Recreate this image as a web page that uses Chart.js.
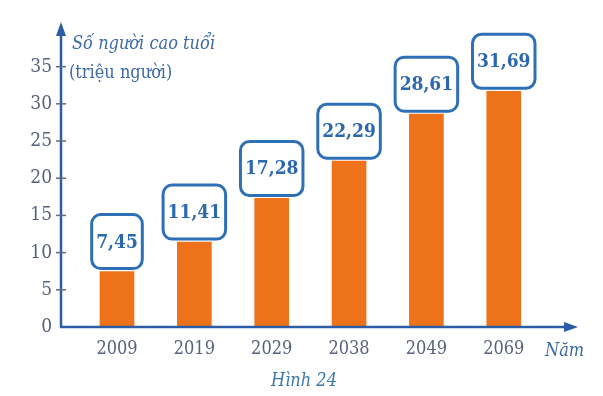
<!DOCTYPE html>
<html>
<head>
<meta charset="utf-8">
<script src="https://cdn.jsdelivr.net/npm/chart.js@4.4.1/dist/chart.umd.min.js"></script>
<style>
  html, body { margin: 0; padding: 0; background: #fff; }
  #wrap { width: 603px; height: 396px; }
</style>
</head>
<body>
<div id="wrap"><canvas id="popChart" width="603" height="396"></canvas></div>
<script>
const years = ['2009', '2019', '2029', '2038', '2049', '2069'];
const elderly = [7.45, 11.41, 17.28, 22.29, 28.61, 31.69];
const yTicks = [0, 5, 10, 15, 20, 25, 30, 35];

const axisBlue = '#2d5ca6';
const labelGrey = '#56627c';
const serif = "'DejaVu Serif Condensed', 'DejaVu Serif', serif";

const axesPlugin = {
  id: 'axesPlugin',
  afterDatasetsDraw(chart) {
    const c = chart.ctx;
    const a = chart.chartArea;
    const ys = chart.scales.y;
    c.save();
    c.strokeStyle = axisBlue;
    c.fillStyle = axisBlue;
    c.lineWidth = 2.5;
    // y axis
    c.beginPath();
    c.moveTo(a.left, a.bottom);
    c.lineTo(a.left, a.top + 10);
    c.stroke();
    c.beginPath();
    c.moveTo(a.left, a.top);
    c.lineTo(a.left - 5, a.top + 14);
    c.lineTo(a.left + 5, a.top + 14);
    c.closePath();
    c.fill();
    // x axis
    c.beginPath();
    c.moveTo(a.left - 1, a.bottom);
    c.lineTo(a.right - 10, a.bottom);
    c.stroke();
    c.beginPath();
    c.moveTo(a.right, a.bottom);
    c.lineTo(a.right - 14, a.bottom - 5);
    c.lineTo(a.right - 14, a.bottom + 5);
    c.closePath();
    c.fill();
    // tick marks
    c.lineWidth = 1.5;
    c.strokeStyle = '#5a6a8a';
    yTicks.forEach(v => {
      if (v === 0) return;
      const py = ys.getPixelForValue(v);
      c.beginPath();
      c.moveTo(a.left - 5, py);
      c.lineTo(a.left + 5, py);
      c.stroke();
    });

    // value boxes
    const meta = chart.getDatasetMeta(0);
    c.font = 'bold 19px ' + serif;
    c.textAlign = 'center';
    c.textBaseline = 'middle';
    meta.data.forEach((bar, i) => {
      const txt = elderly[i].toFixed(2).replace('.', ',');
      const w = c.measureText(txt).width + 9;
      const h = 54;
      const x = bar.x - w / 2;
      const y = bar.y - 3 - h;
      c.lineWidth = 3;
      c.strokeStyle = '#2f6fb5';
      c.fillStyle = '#ffffff';
      c.beginPath();
      c.roundRect(x, y, w, h, 9);
      c.fill();
      c.stroke();
      c.fillStyle = '#2c68ae';
      c.fillText(txt, bar.x, y + h / 2 + 1);
    });

    // titles
    c.textAlign = 'left';
    c.textBaseline = 'alphabetic';
    c.fillStyle = '#3f6aa6';
    c.font = 'italic 18px ' + serif;
    c.fillText('Số người cao tuổi', 72, 49);
    c.font = '18px ' + serif;
    c.fillText('(triệu người)', 69, 78);
    c.font = 'italic 18px ' + serif;
    c.fillText('Năm', 545, 356);
    c.textAlign = 'center';
    c.fillStyle = '#3b78aa';
    c.fillText('Hình 24', 304, 386);
    c.restore();
  }
};

new Chart(document.getElementById('popChart'), {
  type: 'bar',
  data: {
    datasets: [{
      data: elderly.map((v, i) => ({ x: i, y: v })),
      backgroundColor: '#ee7219',
      borderWidth: 0,
      barThickness: 34
    }]
  },
  options: {
    responsive: false,
    animation: false,
    layout: { padding: { top: 22, right: 25, left: 0, bottom: 0 } },
    plugins: { legend: { display: false }, tooltip: { enabled: false } },
    scales: {
      x: {
        type: 'linear',
        offset: false,
        min: -0.724,
        max: 5.96,
        grid: { display: false, drawTicks: false, offset: false },
        border: { display: false },
        afterBuildTicks: s => { s.ticks = years.map((_, i) => ({ value: i })); },
        afterFit: s => { s.height = 69; },
        ticks: {
          padding: 12,
          color: labelGrey,
          font: { family: serif, size: 18 },
          callback: v => years[v]
        }
      },
      y: {
        min: 0,
        max: 41,
        grid: { display: false, drawTicks: false },
        border: { display: false },
        afterBuildTicks: s => { s.ticks = yTicks.map(v => ({ value: v })); },
        afterFit: s => { s.width = 61; },
        ticks: {
          padding: 9,
          color: labelGrey,
          font: { family: serif, size: 19 }
        }
      }
    }
  },
  plugins: [axesPlugin]
});
</script>
</body>
</html>
